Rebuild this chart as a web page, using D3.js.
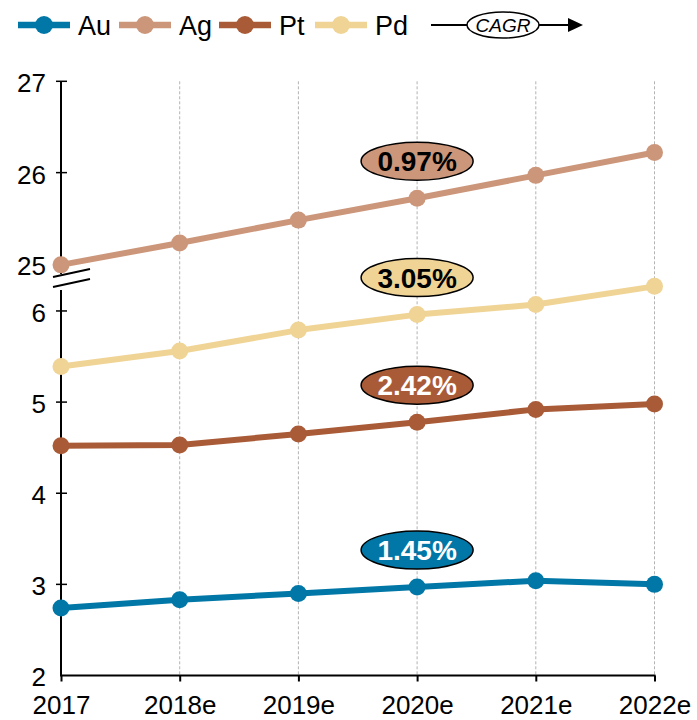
<!DOCTYPE html>
<html>
<head>
<meta charset="utf-8">
<script src="https://cdn.jsdelivr.net/npm/d3@7"></script>
<style>
  html, body { margin: 0; padding: 0; background: #fff; }
  svg { display: block; font-family: Arial, "Liberation Sans", sans-serif; }
</style>
</head>
<body>
<svg id="chart" width="697" height="720"></svg>
<script>
// Supply by metal, with a broken value axis (Ag on the upper segment)
const categories = ["2017", "2018e", "2019e", "2020e", "2021e", "2022e"];
const auValues = [2.74, 2.83, 2.90, 2.97, 3.04, 3.00];
const agValues = [24.99, 25.23, 25.48, 25.72, 25.97, 26.22];
const ptValues = [4.52, 4.53, 4.65, 4.78, 4.92, 4.98];
const pdValues = [5.39, 5.56, 5.79, 5.96, 6.07, 6.27];
const seriesNames = ["Au", "Ag", "Pt", "Pd"];
const cagrLabels = ["1.45%", "0.97%", "2.42%", "3.05%"];
const lowTicks = [2, 3, 4, 5, 6];
const highTicks = [25, 26, 27];

const colors = { Au: "#0077A6", Ag: "#CC967A", Pt: "#A95B37", Pd: "#EFD496" };
const labelText = { Au: "#fff", Ag: "#000", Pt: "#fff", Pd: "#000" };
const values = { Au: auValues, Ag: agValues, Pt: ptValues, Pd: pdValues };
const upper = { Au: false, Ag: true, Pt: false, Pd: false };

const svg = d3.select("#chart");

const x = d3.scalePoint().domain(categories).range([61, 654.5]);
const yLow = d3.scaleLinear().domain([2, 6.23]).range([675.5, 290]);
const yHigh = d3.scaleLinear().domain([24.89, 27]).range([274, 81.3]);
const axisX = x(categories[0]);

// vertical dashed gridlines
svg.append("g").selectAll("line")
  .data(categories.slice(1))
  .join("line")
  .attr("x1", d => x(d)).attr("x2", d => x(d))
  .attr("y1", yHigh(27)).attr("y2", yLow(2))
  .attr("stroke", "#b3b3b3").attr("stroke-width", 1)
  .attr("stroke-dasharray", "3,2");

// y axis, lower segment
const gLow = svg.append("g").attr("transform", `translate(${axisX},0)`)
  .call(d3.axisLeft(yLow).tickValues(lowTicks).tickSize(0).tickPadding(15).tickFormat(d3.format("d")));
// y axis, upper segment
const gHigh = svg.append("g").attr("transform", `translate(${axisX},0)`)
  .call(d3.axisLeft(yHigh).tickValues(highTicks).tickSize(0).tickPadding(15).tickFormat(d3.format("d")));

[gLow, gHigh].forEach(g => {
  g.select(".domain").remove();
  g.selectAll("text").attr("font-size", 26).attr("fill", "#000")
    .attr("font-family", "Arial, 'Liberation Sans', sans-serif").attr("dy", "0.4em");
});
svg.append("line").attr("x1", axisX).attr("x2", axisX)
  .attr("y1", yLow.range()[1]).attr("y2", yLow.range()[0])
  .attr("stroke", "#000").attr("stroke-width", 2);
svg.append("line").attr("x1", axisX).attr("x2", axisX)
  .attr("y1", yHigh.range()[1]).attr("y2", yHigh.range()[0])
  .attr("stroke", "#000").attr("stroke-width", 2);
// cross ticks
svg.append("g").selectAll("line")
  .data(lowTicks.slice(1).map(v => yLow(v)).concat(highTicks.map(v => yHigh(v))))
  .join("line")
  .attr("x1", axisX - 5).attr("x2", axisX + 6)
  .attr("y1", d => d).attr("y2", d => d)
  .attr("stroke", "#000").attr("stroke-width", 1.5);

// axis break marks
[0, 10].forEach(off => {
  svg.append("line")
    .attr("x1", axisX - 8).attr("y1", 277 + off)
    .attr("x2", axisX + 29).attr("y2", 269 + off)
    .attr("stroke", "#000").attr("stroke-width", 1.8);
});

// x axis
const gx = svg.append("g").attr("transform", `translate(0,${yLow(2)})`)
  .call(d3.axisBottom(x).tickSize(6).tickPadding(14));
gx.select(".domain").attr("stroke-width", 2).attr("d", `M${x.range()[0] - 1},0H${x.range()[1] + 1}`);
gx.selectAll(".tick line").attr("stroke-width", 2);
gx.selectAll("text").attr("font-size", 26).attr("fill", "#000")
  .attr("font-family", "Arial, 'Liberation Sans', sans-serif");

// series lines and markers
const order = ["Ag", "Pd", "Pt", "Au"];
order.forEach(name => {
  const y = upper[name] ? yHigh : yLow;
  const pts = categories.map((c, i) => [x(c), y(values[name][i])]);
  svg.append("path")
    .attr("d", d3.line()(pts))
    .attr("fill", "none").attr("stroke", colors[name])
    .attr("stroke-width", 6).attr("stroke-linejoin", "round");
  svg.append("g").selectAll("circle").data(pts).join("circle")
    .attr("cx", d => d[0]).attr("cy", d => d[1]).attr("r", 8.5)
    .attr("fill", colors[name]);
});

// CAGR bubbles above the 2020e point
seriesNames.forEach((name, i) => {
  const y = upper[name] ? yHigh : yLow;
  const cx = x("2020e");
  const cy = y(values[name][3]) - 37;
  svg.append("ellipse").attr("cx", cx).attr("cy", cy).attr("rx", 56).attr("ry", 19)
    .attr("fill", colors[name]).attr("stroke", "#000").attr("stroke-width", 1.5);
  svg.append("text").attr("x", cx).attr("y", cy).attr("dy", "0.36em")
    .attr("text-anchor", "middle").attr("font-size", 28).attr("font-weight", "bold")
    .attr("fill", labelText[name]).text(cagrLabels[i]);
});

// legend
const legendItems = [
  { name: "Au", x0: 18 }, { name: "Ag", x0: 119 }, { name: "Pt", x0: 219 }, { name: "Pd", x0: 315 }
];
const ly = 25;
legendItems.forEach(it => {
  const g = svg.append("g");
  g.append("line").attr("x1", it.x0).attr("x2", it.x0 + 52).attr("y1", ly).attr("y2", ly)
    .attr("stroke", colors[it.name]).attr("stroke-width", 6.5);
  g.append("circle").attr("cx", it.x0 + 26).attr("cy", ly).attr("r", 9).attr("fill", colors[it.name]);
  g.append("text").attr("x", it.x0 + 60).attr("y", ly).attr("dy", "0.36em")
    .attr("font-size", 27).attr("fill", "#000").text(it.name);
});
// CAGR key
svg.append("line").attr("x1", 431).attr("x2", 468).attr("y1", ly).attr("y2", ly)
  .attr("stroke", "#000").attr("stroke-width", 2);
svg.append("ellipse").attr("cx", 503).attr("cy", ly).attr("rx", 36).attr("ry", 13)
  .attr("fill", "#fff").attr("stroke", "#000").attr("stroke-width", 1.5);
svg.append("text").attr("x", 503).attr("y", ly).attr("dy", "0.36em")
  .attr("text-anchor", "middle").attr("font-size", 19).attr("font-style", "italic").text("CAGR");
svg.append("line").attr("x1", 539).attr("x2", 570).attr("y1", ly).attr("y2", ly)
  .attr("stroke", "#000").attr("stroke-width", 2);
svg.append("path").attr("d", `M568,${ly - 7}L583,${ly}L568,${ly + 7}Z`).attr("fill", "#000");
</script>
</body>
</html>
